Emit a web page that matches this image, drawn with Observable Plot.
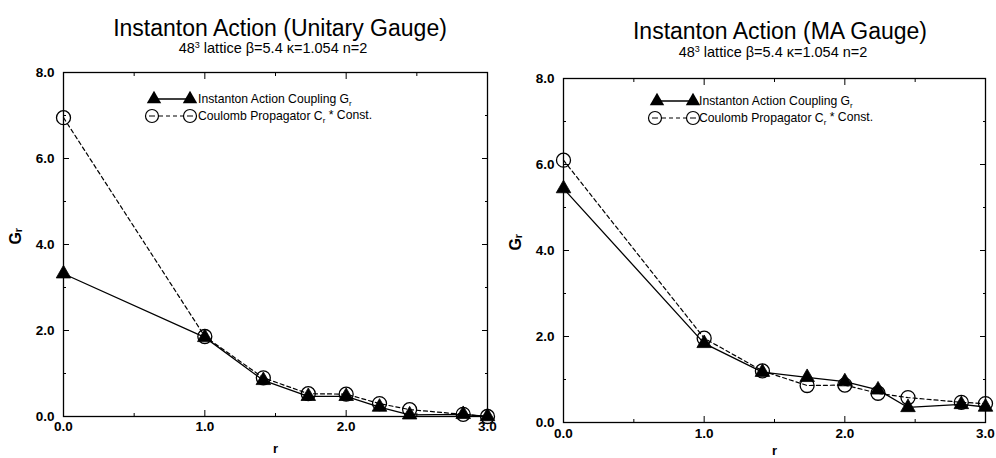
<!DOCTYPE html>
<html>
<head>
<meta charset="utf-8">
<script src="https://cdn.jsdelivr.net/npm/d3@7"></script>
<script src="https://cdn.jsdelivr.net/npm/@observablehq/plot@0.6"></script>
<style>
  body { margin: 0; background: #fff; }
  #wrap { position: relative; width: 996px; height: 458px; overflow: hidden; background: #fff;
          font-family: "Liberation Sans", Arial, sans-serif; color: #000; }
  .t { position: absolute; transform: translate(-50%, -50%); white-space: nowrap; }
  .title { font-size: 23px; }
  .sub { font-size: 14.5px; }
  .sub sup { font-size: 9px; }
  .p { position: absolute; top: 60px; }
  .leg { position: absolute; left: 0; top: 0; overflow: visible; }
</style>
</head>
<body>
<div id="wrap"></div>
<script>
// ---- data ----
const rValues = [0.0, 1.0, 1.414, 1.732, 2.0, 2.236, 2.449, 2.828, 3.0];

const unitaryG = [3.32, 1.84, 0.84, 0.47, 0.47, 0.22, 0.04, 0.05, 0.0];
const unitaryC = [6.95, 1.86, 0.90, 0.53, 0.52, 0.30, 0.16, 0.05, 0.0];

const maG = [5.44, 1.84, 1.17, 1.05, 0.95, 0.76, 0.35, 0.42, 0.36];
const maC = [6.10, 1.96, 1.20, 0.86, 0.87, 0.68, 0.58, 0.47, 0.44];

const xTicks = [0, 1, 2, 3];
const xMinorTicks = [0.5, 1.5, 2.5];
const yTicks = [0, 2, 4, 6, 8];
const yMinorTicks = [1, 3, 5, 7];

const titles = ["Instanton Action (Unitary Gauge)", "Instanton Action (MA Gauge)"];
const subtitleHTML = "48<sup>3</sup> lattice \u03B2=5.4 \u03BA=1.054 n=2";
const legendG = "Instanton Action Coupling G";
const legendC1 = "Coulomb Propagator  C";
const legendC2 = " * Const.";
const yLabel = "G\u1D63";
const xLabel = "r";

const wrap = document.getElementById("wrap");

function addText(cls, html, x, y) {
  const d = document.createElement("div");
  d.className = "t " + cls;
  d.innerHTML = html;
  d.style.left = x + "px";
  d.style.top = y + "px";
  wrap.appendChild(d);
}

function chart(G, C, m) {
  const g = rValues.map((r, i) => ({r, v: G[i]}));
  const c = rValues.map((r, i) => ({r, v: C[i]}));
  const fmt = d => d.toFixed(1);
  return Plot.plot({
    width: 498,
    height: 398,
    marginTop: m.top, marginLeft: m.left, marginRight: m.right, marginBottom: m.bottom,
    x: {domain: [0, 3]},
    y: {domain: [0, 8]},
    style: {fontFamily: "'Liberation Sans', Arial, sans-serif", fontSize: "12px", background: "transparent", color: "#000"},
    marks: [
      Plot.frame({stroke: "#000", strokeWidth: 1.3}),
      // tick labels
      Plot.axisY(yTicks, {tickSize: 0, tickPadding: 9, tickFormat: fmt, fontWeight: "bold", fontSize: 13.5, label: null}),
      Plot.axisX(xTicks, {tickSize: 0, tickPadding: m.xpad, tickFormat: fmt, fontWeight: "bold", fontSize: 13.5, label: null}),
      // inward major ticks on all sides
      Plot.axisY(yTicks, {anchor: "left", tickSize: -6, fill: "none", label: null}),
      Plot.axisY(yTicks, {anchor: "right", tickSize: -6, fill: "none", label: null}),
      Plot.axisX(xTicks, {anchor: "bottom", tickSize: -6, fill: "none", label: null}),
      Plot.axisX(xTicks, {anchor: "top", tickSize: -6, fill: "none", label: null}),
      // inward minor ticks
      Plot.axisY(yMinorTicks, {anchor: "left", tickSize: -3, fill: "none", label: null}),
      Plot.axisY(yMinorTicks, {anchor: "right", tickSize: -3, fill: "none", label: null}),
      Plot.axisX(xMinorTicks, {anchor: "bottom", tickSize: -3, fill: "none", label: null}),
      Plot.axisX(xMinorTicks, {anchor: "top", tickSize: -3, fill: "none", label: null}),
      // axis labels
      Plot.text([yLabel], {frameAnchor: "left", dx: -48, rotate: -90, fontSize: 16, fontWeight: "bold"}),
      Plot.text([xLabel], {frameAnchor: "bottom", dy: m.xlab, fontSize: 13, fontWeight: "bold"}),
      // series
      Plot.line(c, {x: "r", y: "v", stroke: "#000", strokeWidth: 1.2, strokeDasharray: "4,3"}),
      Plot.line(g, {x: "r", y: "v", stroke: "#000", strokeWidth: 1.3}),
      Plot.dot(g, {x: "r", y: "v", symbol: "triangle", r: 5.4, fill: "#000", stroke: "#000", strokeWidth: 0.8}),
      Plot.dot(c, {x: "r", y: "v", symbol: "circle", r: 7, fill: "none", stroke: "#000", strokeWidth: 1.3})
    ]
  });
}

function legend(left, L) {
  const svg = d3.create("svg").attr("class", "leg").attr("width", 498).attr("height", 458)
    .style("left", left + "px");
  const tri = d3.symbol(d3.symbolTriangle, 90)();
  const font = "'Liberation Sans', Arial, sans-serif";
  // row 1
  svg.append("line").attr("x1", L.t1).attr("x2", L.t2).attr("y1", L.y1).attr("y2", L.y1)
    .attr("stroke", "#000").attr("stroke-width", 1.3);
  [L.t1, L.t2].forEach(x => svg.append("path").attr("d", tri).attr("transform", `translate(${x},${L.y1})`).attr("fill", "#000"));
  const t1 = svg.append("text").attr("x", L.tx).attr("y", L.y1).attr("dy", "0.35em")
    .attr("font-family", font).attr("font-size", 12.2).text(legendG);
  t1.append("tspan").attr("font-size", 8).attr("dy", "0.35em").text("r");
  // row 2
  svg.append("line").attr("x1", L.c1).attr("x2", L.c2).attr("y1", L.y2).attr("y2", L.y2)
    .attr("stroke", "#000").attr("stroke-width", 1.2).attr("stroke-dasharray", "4,3");
  [L.c1, L.c2].forEach(x => {
    svg.append("circle").attr("cx", x).attr("cy", L.y2).attr("r", 6.5).attr("fill", "#fff").attr("stroke", "#000").attr("stroke-width", 1.2);
    svg.append("line").attr("x1", x - 3).attr("x2", x + 3).attr("y1", L.y2).attr("y2", L.y2).attr("stroke", "#000").attr("stroke-width", 1);
  });
  const t2 = svg.append("text").attr("x", L.tx).attr("y", L.y2).attr("dy", "0.35em")
    .attr("font-family", font).attr("font-size", 12.2).text(legendC1);
  t2.append("tspan").attr("font-size", 8).attr("dy", "0.35em").text("r");
  t2.append("tspan").attr("dy", "-0.35em").text(legendC2);
  wrap.appendChild(svg.node());
}

// titles
addText("title", titles[0], 280, 28);
addText("sub", subtitleHTML, 273, 48);
addText("title", titles[1], 780, 31);
addText("sub", subtitleHTML, 773, 52);

// plots
const p1 = chart(unitaryG, unitaryC, {top: 12, left: 63, right: 11, bottom: 42, xpad: 5, xlab: 36});
p1.classList.add("p"); p1.style.left = "0px";
wrap.appendChild(p1);

const p2 = chart(maG, maC, {top: 18, left: 65, right: 11, bottom: 36, xpad: 6, xlab: 32});
p2.classList.add("p"); p2.style.left = "498px";
wrap.appendChild(p2);

legend(0, {t1: 154, t2: 190, c1: 152, c2: 190, tx: 198, y1: 99, y2: 116});
legend(498, {t1: 159, t2: 195, c1: 157, c2: 195, tx: 201, y1: 101, y2: 118});
</script>
</body>
</html>
